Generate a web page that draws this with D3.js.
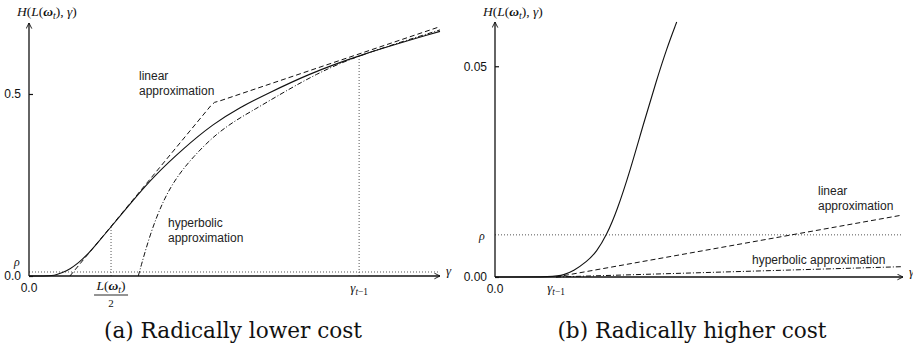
<!DOCTYPE html>
<html>
<head>
<meta charset="utf-8">
<script src="https://cdnjs.cloudflare.com/ajax/libs/d3/7.8.5/d3.min.js"></script>
<style>
    html, body { margin: 0; padding: 0; background: #fff; }
    svg { display: block; }
</style>
</head>
<body>
<div id="chart"></div>
<script>
// H(L(w_t), gamma) and its two approximations

// (a) radically lower cost
const leftExact = [
    [0, 0], [0.048, 0], [0.07, 0.001], [0.084, 0.004], [0.1, 0.009],
    [0.124, 0.019], [0.15, 0.036], [0.175, 0.057], [0.2, 0.083],
    [0.248, 0.134], [0.316, 0.209], [0.377, 0.273], [0.467, 0.35],
    [0.558, 0.418], [0.64, 0.464], [0.72, 0.5], [0.842, 0.553],
    [1.0, 0.607], [1.245, 0.672]
];
const leftLinear = [
    [0.124, 0], [0.55, 0.467], [0.562, 0.477], [0.578, 0.481], [1.245, 0.685]
];
const leftHyperbolic = [
    [0.331, 0], [0.367, 0.117], [0.407, 0.209], [0.448, 0.273],
    [0.498, 0.328], [0.558, 0.383], [0.619, 0.424], [0.69, 0.461],
    [0.74, 0.488], [0.872, 0.557], [1.0, 0.607], [1.245, 0.676]
];
const leftYTicks = [0.0, 0.5];
const leftRho = 0.011;
const halfLoss = 0.2485;   // L(w_t)/2

// (b) radically higher cost
const rightExact = [
    [0, 0], [1.0, 0], [1.12, 0.0005], [1.284, 0.0014], [1.503, 0.0036],
    [1.667, 0.006], [1.831, 0.01], [1.995, 0.0155], [2.213, 0.0251],
    [2.431, 0.0362], [2.651, 0.0468], [2.815, 0.0542], [2.979, 0.0605]
];
const rightLinear = [[1.0, 0], [6.68, 0.0147]];
const rightHyperbolic = [[1.0, 0], [6.68, 0.00245]];
const rightYTicks = [0.00, 0.05];
const rightRho = 0.01;

const gammaPrev = 1.0;     // gamma_{t-1}
const captions = ['(a) Radically lower cost', '(b) Radically higher cost'];

const SANS = '"Liberation Sans", Arial, sans-serif';
const SERIF = '"Liberation Serif", "Times New Roman", serif';

const FigViz = {
    svg: null,
    width: 913,
    height: 351,

    init(containerId) {
        const container = d3.select(`#${containerId}`);
        container.selectAll('*').remove();

        this.svg = container.append('svg')
            .attr('width', this.width)
            .attr('height', this.height);

        this.svg.append('rect')
            .attr('width', this.width)
            .attr('height', this.height)
            .attr('fill', '#fff');

        // open arrow head for both axes
        this.svg.append('defs').append('marker')
            .attr('id', 'arrow')
            .attr('viewBox', '0 0 10 10')
            .attr('refX', 9)
            .attr('refY', 5)
            .attr('markerWidth', 7)
            .attr('markerHeight', 7)
            .attr('markerUnits', 'userSpaceOnUse')
            .attr('orient', 'auto')
            .append('path')
            .attr('d', 'M1,1 L9,5 L1,9')
            .attr('fill', 'none')
            .attr('stroke', '#111')
            .attr('stroke-width', 1.3);

        this.drawLeft();
        this.drawRight();
    },

    // math text built from pieces: {t, i (italic), b (bold), sub}
    mathText(sel, x, y, parts, size, anchor) {
        const text = sel.append('text')
            .attr('x', x)
            .attr('y', y)
            .attr('text-anchor', anchor || 'start')
            .attr('font-family', SERIF)
            .attr('font-size', size)
            .attr('fill', '#111');
        let shifted = false;
        parts.forEach(p => {
            const ts = text.append('tspan').text(p.t);
            if (p.i) ts.attr('font-style', 'italic');
            if (p.b) ts.attr('font-weight', 'bold');
            if (p.sub && !shifted) {
                ts.attr('dy', size * 0.25).attr('font-size', size * 0.72);
                shifted = true;
            } else if (p.sub) {
                ts.attr('font-size', size * 0.72);
            } else if (shifted) {
                ts.attr('dy', -size * 0.25);
                shifted = false;
            }
        });
        return text;
    },

    hLabel(x, y) {
        return this.mathText(this.svg, x, y, [
            { t: 'H', i: true }, { t: '(' }, { t: 'L', i: true }, { t: '(' },
            { t: 'ω', i: true, b: true }, { t: 't', i: true, sub: true },
            { t: '), ' }, { t: 'γ', i: true }, { t: ')' }
        ], 13.5);
    },

    gammaPrevLabel(x, y) {
        return this.mathText(this.svg, x, y, [
            { t: 'γ', i: true }, { t: 't', i: true, sub: true }, { t: '−1', sub: true }
        ], 13, 'middle');
    },

    drawAxes(x, y, yTicks, fmt) {
        const [x0, x1] = x.range();
        const [y0, y1] = y.range();

        const yAxis = d3.axisLeft(y)
            .tickValues(yTicks)
            .tickFormat(fmt)
            .tickSizeInner(-4)
            .tickSizeOuter(0)
            .tickPadding(8);
        const g = this.svg.append('g')
            .attr('transform', `translate(${x0},0)`)
            .call(yAxis);
        g.select('.domain').remove();
        g.selectAll('.tick line').attr('stroke', '#111').attr('stroke-width', 1.2);
        g.selectAll('.tick text')
            .attr('font-family', SANS)
            .attr('font-size', 12)
            .attr('fill', '#111');

        // x tick label at the origin
        this.svg.append('text')
            .attr('x', x(0))
            .attr('y', y0 + 16)
            .attr('text-anchor', 'middle')
            .attr('font-family', SANS)
            .attr('font-size', 12)
            .attr('fill', '#111')
            .text('0.0');

        this.svg.append('line')
            .attr('x1', x0).attr('y1', y0)
            .attr('x2', x1).attr('y2', y0)
            .attr('stroke', '#111').attr('stroke-width', 1.3)
            .attr('marker-end', 'url(#arrow)');
        this.svg.append('line')
            .attr('x1', x0).attr('y1', y0)
            .attr('x2', x0).attr('y2', y1)
            .attr('stroke', '#111').attr('stroke-width', 1.3)
            .attr('marker-end', 'url(#arrow)');

        this.mathText(this.svg, x1 + 6, y0 - 1, [{ t: 'γ', i: true }], 13);
    },

    drawDotted(x1, y1, x2, y2) {
        this.svg.append('line')
            .attr('x1', x1).attr('y1', y1)
            .attr('x2', x2).attr('y2', y2)
            .attr('stroke', '#555')
            .attr('stroke-width', 1)
            .attr('stroke-dasharray', '1,2');
    },

    drawCurves(x, y, exact, linear, hyper) {
        const smooth = d3.line()
            .x(d => x(d[0]))
            .y(d => y(d[1]))
            .curve(d3.curveBasis);
        const straight = d3.line()
            .x(d => x(d[0]))
            .y(d => y(d[1]));

        this.svg.append('path').datum(hyper)
            .attr('d', smooth)
            .attr('fill', 'none').attr('stroke', '#111').attr('stroke-width', 1)
            .attr('stroke-dasharray', '5,2,1,2');
        this.svg.append('path').datum(linear)
            .attr('d', straight)
            .attr('fill', 'none').attr('stroke', '#111').attr('stroke-width', 1)
            .attr('stroke-dasharray', '5,3');
        this.svg.append('path').datum(exact)
            .attr('d', smooth)
            .attr('fill', 'none').attr('stroke', '#111').attr('stroke-width', 1.1);
    },

    note(x, y, lines) {
        const t = this.svg.append('text')
            .attr('font-family', SANS)
            .attr('font-size', 12)
            .attr('fill', '#222');
        lines.forEach((s, i) => {
            t.append('tspan').attr('x', x).attr('y', y + i * 15).text(s);
        });
    },

    caption(cx, text) {
        this.svg.append('text')
            .attr('x', cx)
            .attr('y', 338)
            .attr('text-anchor', 'middle')
            .attr('font-family', '"DejaVu Serif", serif')
            .attr('font-size', 21.6)
            .attr('fill', '#111')
            .text(text);
    },

    drawLeft() {
        const x = d3.scaleLinear().domain([0, 1.245]).range([29, 440]);
        const y = d3.scaleLinear().domain([0, 0.695]).range([276, 23]);
        const exactAt = g => d3.scaleLinear()
            .domain(leftExact.map(d => d[0]))
            .range(leftExact.map(d => d[1]))(g);

        // reference lines
        this.drawDotted(x(0), y(leftRho), x.range()[1], y(leftRho));
        this.drawDotted(x(halfLoss), y(0), x(halfLoss), y(exactAt(halfLoss)));
        this.drawDotted(x(gammaPrev), y(0), x(gammaPrev), y(exactAt(gammaPrev)));

        this.drawCurves(x, y, leftExact, leftLinear, leftHyperbolic);
        this.drawAxes(x, y, leftYTicks, d3.format('.1f'));

        this.mathText(this.svg, 17, y(leftRho) - 6, [{ t: 'ρ', i: true }], 12, 'middle');
        this.hLabel(17, 16);

        // L(w_t)/2 fraction under the axis
        const fx = x(halfLoss);
        this.mathText(this.svg, fx, 290, [
            { t: 'L', i: true }, { t: '(' }, { t: 'ω', i: true, b: true },
            { t: 't', i: true, sub: true }, { t: ')' }
        ], 13.5, 'middle');
        this.svg.append('line')
            .attr('x1', fx - 17).attr('x2', fx + 17)
            .attr('y1', 295).attr('y2', 295)
            .attr('stroke', '#111').attr('stroke-width', 0.9);
        this.mathText(this.svg, fx, 307, [{ t: '2' }], 11, 'middle');

        this.gammaPrevLabel(x(gammaPrev), 292);

        this.note(139, 80, ['linear', 'approximation']);
        this.note(168, 227, ['hyperbolic', 'approximation']);

        this.caption(233, captions[0]);
    },

    drawRight() {
        const x = d3.scaleLinear().domain([0, 6.689]).range([495, 903]);
        const y = d3.scaleLinear().domain([0, 0.0605]).range([277, 22]);

        this.drawDotted(x(0), y(rightRho), x.range()[1], y(rightRho));

        this.drawCurves(x, y, rightExact, rightLinear, rightHyperbolic);
        this.drawAxes(x, y, rightYTicks, d3.format('.2f'));

        this.mathText(this.svg, 482, y(rightRho) + 5, [{ t: 'ρ', i: true }], 12, 'middle');
        this.hLabel(483, 16);
        this.gammaPrevLabel(x(gammaPrev), 292);

        this.note(818, 195, ['linear', 'approximation']);
        this.note(752, 264, ['hyperbolic approximation']);

        this.caption(692, captions[1]);
    }
};

FigViz.init('chart');
</script>
</body>
</html>
